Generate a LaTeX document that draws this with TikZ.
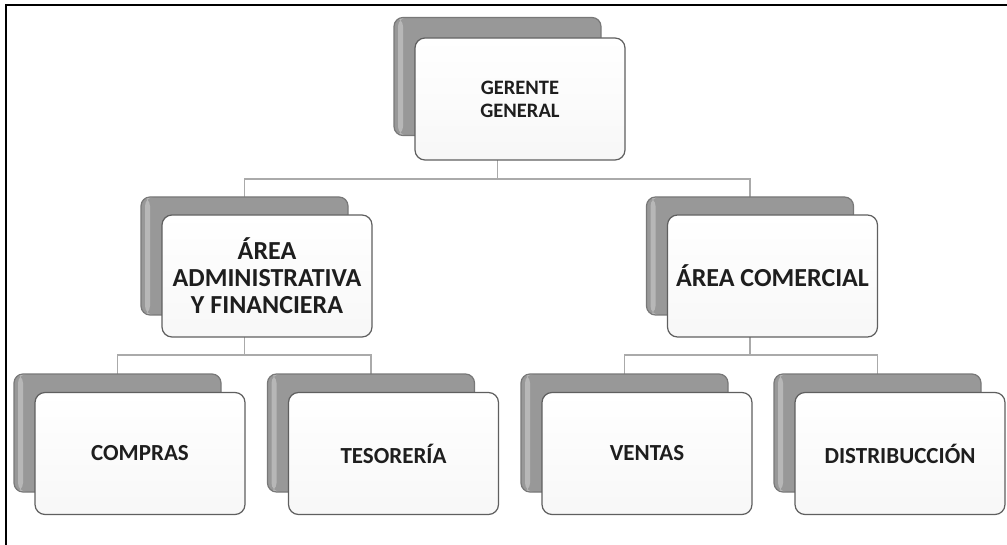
\documentclass[tikz,border=0pt]{standalone}
\usepackage{fontspec}
\setmainfont{Carlito}
\usetikzlibrary{backgrounds}

\definecolor{shadegray}{RGB}{152,152,152}
\definecolor{shadeedge}{RGB}{120,120,120}
\definecolor{boxedge}{RGB}{95,95,95}
\definecolor{linkgray}{RGB}{170,170,170}
\definecolor{textgray}{RGB}{30,30,30}

\tikzset{
        backcard/.style={rounded corners=9pt, draw=shadeedge, line width=1.2pt,
                fill=shadegray, minimum width=207pt, minimum height=118pt,
                path picture={\fill[white, opacity=.3]
                        ([xshift=4pt]path picture bounding box.south west) rectangle
                        ([xshift=9pt]path picture bounding box.north west);}},
        frontcard/.style={rounded corners=10pt, draw=boxedge, line width=1.2pt,
                top color=white, bottom color=gray!6,
                minimum width=210pt, minimum height=122pt, align=center,
                text=textgray},
        lvlone/.style={frontcard, font=\fontsize{20.5}{23}\selectfont\bfseries},
        lvltwo/.style={frontcard, font=\fontsize{26}{27}\selectfont\bfseries},
        lvlthree/.style={frontcard, font=\fontsize{23}{26}\selectfont\bfseries},
        link/.style={draw=linkgray, line width=1.4pt}
}

\begin{document}
\begin{tikzpicture}[x=1pt, y=-1pt]
        \useasboundingbox (0,0) rectangle (1007,545);
        \draw[line width=2pt] (1007,5) -- (6,5) -- (6,545); % frame

        % level 1
        \node[backcard] (gerSh) at (497.5,76.5) {};
        \node[lvlone] (ger) at ([shift={(22.5,22.5)}]gerSh.center) {GERENTE\\GENERAL};
        % level 2
        \node[backcard] (admSh) at (244.5,256) {};
        \node[lvltwo] (adm) at ([shift={(22.5,20)}]admSh.center) {ÁREA\\ADMINISTRATIVA\\Y FINANCIERA};
        \node[backcard] (comSh) at (750,256) {};
        \node[lvltwo] (com) at ([shift={(22.5,20)}]comSh.center) {ÁREA COMERCIAL};
        % level 3
        \node[backcard] (cmpSh) at (117.5,433) {};
        \node[lvlthree] (cmp) at ([shift={(22.5,20.5)}]cmpSh.center) {COMPRAS};
        \node[backcard] (tesSh) at (371,433) {};
        \node[lvlthree] (tes) at ([shift={(22.5,20.5)}]tesSh.center) {TESORERÍA};
        \node[backcard] (venSh) at (624.5,433) {};
        \node[lvlthree] (ven) at ([shift={(22.5,20.5)}]venSh.center) {VENTAS};
        \node[backcard] (disSh) at (877.5,433) {};
        \node[lvlthree] (dis) at ([shift={(22.5,20.5)}]disSh.center) {DISTRIBUCCIÓN};

        \coordinate (busA) at (gerSh.center |- 0,179);
        \coordinate (busB) at (admSh.center |- 0,355);
        \coordinate (busC) at (comSh.center |- 0,355);

        \begin{scope}[on background layer]
        \draw[link] (gerSh.center) -- (busA) -| (admSh.center);
        \draw[link] (busA) -| (comSh.center);
        \draw[link] (admSh.center) -- (busB) -| (cmpSh.center);
        \draw[link] (busB) -| (tesSh.center);
        \draw[link] (comSh.center) -- (busC) -| (venSh.center);
        \draw[link] (busC) -| (disSh.center);
        \end{scope}
\end{tikzpicture}
\end{document}
